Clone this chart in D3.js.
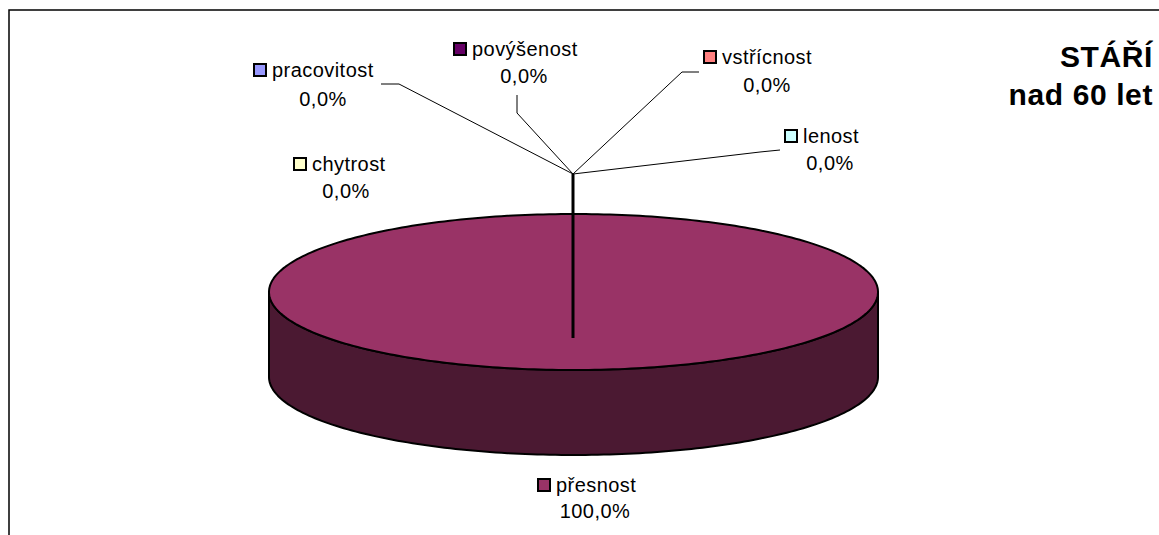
<!DOCTYPE html>
<html><head><meta charset="utf-8">
<script src="https://cdn.jsdelivr.net/npm/d3@7"></script>
<style>
html,body{margin:0;padding:0;background:#fff;}
svg{display:block;font-family:"Liberation Sans",Arial,sans-serif;}
</style></head>
<body><svg id="c" width="1159" height="535"></svg>
<script>
// ---- data ----
const categories = ["pracovitost","přesnost","chytrost","lenost","povýšenost","vstřícnost"];
const values = [0, 100, 0, 0, 0, 0];
const valueLabels = ["0,0%","100,0%","0,0%","0,0%","0,0%","0,0%"];
const titleLines = ["STÁŘÍ","nad 60 let"];

// ---- styles / layout ----
const colors = ["#9999FF","#993366","#FFFFCC","#CCFFFF","#660066","#FF8080"];
const sideDarkerK = 2;
const geo = {cx:573.5, cy:292, rx:304.5, ry:78, depth:85};
const hub = [573,174], hubEnd = [573,338];
const labelLayout = {
  "pracovitost": {keyX:253, nameY:77, valX:323, valY:106, leader:[[381,84],[399,84]]},
  "povýšenost": {keyX:453, nameY:56, valX:524, valY:83, leader:[[517,95],[517,113]]},
  "chytrost":   {keyX:293, nameY:171, valX:346, valY:198, leader:null},
  "vstřícnost": {keyX:703, nameY:64, valX:767, valY:92, leader:[[699,72],[682,72]]},
  "lenost":     {keyX:784, nameY:143, valX:830, valY:170, leader:[[780,150],[760,152]]},
  "přesnost":   {keyX:537, nameY:492, valX:595, valY:518, leader:null}
};
const fontSize = 20, letterSp = 0.45;

const svg = d3.select("#c");
// frame
svg.append("rect").attr("x",9).attr("y",10).attr("width",1300).attr("height",700)
  .attr("fill","none").attr("stroke","#000").attr("stroke-width",1.5);

const pie = d3.pie().sort(null).value(d=>d.v).startAngle(0).endAngle(2*Math.PI);
const arcs = pie(categories.map((c,i)=>({c, v:values[i], i})));

const pt = (a, dy=0) => [geo.cx + geo.rx*Math.sin(a), geo.cy - geo.ry*Math.cos(a) + dy];
function ellArc(p, a0, a1, dy){
  const n = Math.max(2, Math.ceil(Math.abs(a1-a0)/0.02));
  for(let k=0;k<=n;k++){ const a=a0+(a1-a0)*k/n; const q=pt(a,dy); if(k===0 && p._first){p.moveTo(q[0],q[1]);p._first=false;} else p.lineTo(q[0],q[1]); }
}
const g = svg.append("g");
// sides (front half: angles between PI/2 and 3PI/2)
arcs.filter(d=>d.endAngle-d.startAngle>0).forEach(d=>{
  const s = Math.max(d.startAngle, Math.PI/2), e = Math.min(d.endAngle, 3*Math.PI/2);
  if(e<=s) return;
  const p = d3.path(); p._first=true;
  ellArc(p, s, e, 0);
  ellArc(p, e, s, geo.depth);
  p.closePath();
  g.append("path").attr("d",p.toString())
    .attr("fill", d3.color(colors[d.data.i]).darker(sideDarkerK))
    .attr("stroke","#000").attr("stroke-width",2).attr("stroke-linejoin","round");
});
// tops
arcs.filter(d=>d.endAngle-d.startAngle>0).forEach(d=>{
  const p = d3.path(); p._first=true;
  const full = d.endAngle-d.startAngle >= 2*Math.PI-1e-9;
  if(!full){ p.moveTo(geo.cx,geo.cy); p._first=false; }
  ellArc(p, d.startAngle, d.endAngle, 0);
  p.closePath();
  g.append("path").attr("d",p.toString()).attr("fill",colors[d.data.i])
    .attr("stroke","#000").attr("stroke-width",2).attr("stroke-linejoin","round");
});

// leader lines
arcs.forEach(d=>{
  const L = labelLayout[d.data.c];
  if(L.leader){
    svg.append("polyline").attr("points",[...L.leader, hub].map(q=>q.join(",")).join(" "))
      .attr("fill","none").attr("stroke","#000").attr("stroke-width",1);
  }
});
svg.append("line").attr("x1",hub[0]).attr("y1",hub[1]).attr("x2",hubEnd[0]).attr("y2",hubEnd[1])
  .attr("stroke","#000").attr("stroke-width",3);

// labels
arcs.forEach(d=>{
  const L = labelLayout[d.data.c];
  svg.append("rect").attr("x",L.keyX+1).attr("y",L.nameY-13).attr("width",12).attr("height",12)
    .attr("fill",colors[d.data.i]).attr("stroke","#000").attr("stroke-width",2);
  svg.append("text").attr("x",L.keyX+19).attr("y",L.nameY).attr("font-size",fontSize)
    .attr("letter-spacing",letterSp).attr("fill","#000").text(d.data.c);
  svg.append("text").attr("x",L.valX).attr("y",L.valY).attr("font-size",fontSize)
    .attr("letter-spacing",letterSp).attr("text-anchor","middle").attr("fill","#000").text(valueLabels[d.data.i]);
});

// title
[67,105].forEach((y,k)=>{
  svg.append("text").attr("x",1153).attr("y",y).attr("text-anchor","end").attr("font-size",30)
    .attr("letter-spacing",0.6).attr("font-weight","bold").text(titleLines[k]);
});
</script></body></html>
